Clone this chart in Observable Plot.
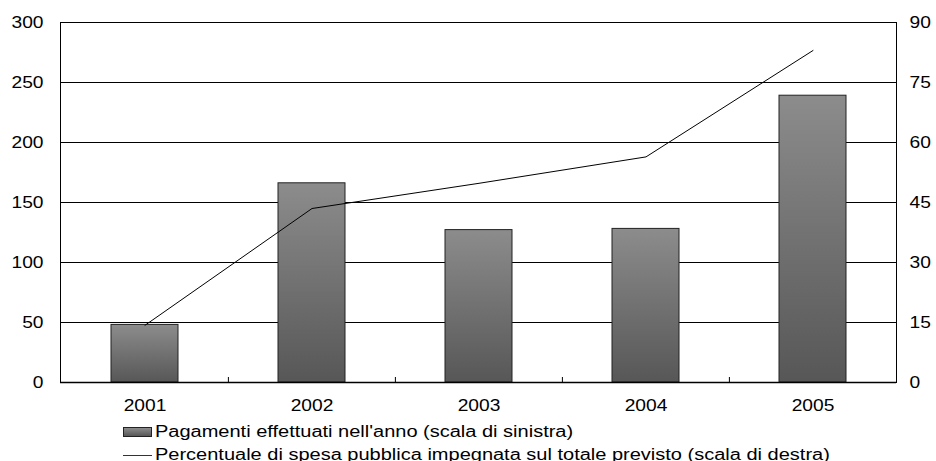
<!DOCTYPE html>
<html>
<head>
<meta charset="utf-8">
<script src="https://cdn.jsdelivr.net/npm/d3@7"></script>
<script src="https://cdn.jsdelivr.net/npm/@observablehq/plot@0.6"></script>
<style>
  body { margin: 0; background: #fff; font-family: "Liberation Sans", Arial, sans-serif; }
  #chart { position: relative; width: 936px; height: 461px; overflow: hidden; }
  .legend-row { position: absolute; left: 0; width: 936px; height: 16px; line-height: 16px; font-size: 16px; color: #000; white-space: nowrap; }
  .legend-row .txt { position: absolute; left: 155px; top: 0; transform-origin: 0 50%; transform: scaleX(1.25); }
  .swatch-bar { position: absolute; left: 123px; top: 3px; width: 27px; height: 8px; border: 1px solid #222; background: linear-gradient(#8c8c8c, #575757); }
  .swatch-line { position: absolute; left: 123px; top: 8px; width: 29px; height: 0; border-top: 1px solid #333; }
</style>
</head>
<body>
<div id="chart"></div>
<script>
// Pagamenti annui (scala di sinistra) e percentuale di spesa impegnata (scala di destra)
const years = ["2001", "2002", "2003", "2004", "2005"];
const pagamenti = [48, 166, 127, 128, 239];
const percentuale = [14.3, 43.5, 49.8, 56.4, 83];
const leftTicks = [0, 50, 100, 150, 200, 250, 300];
const rightTicks = [0, 15, 30, 45, 60, 75, 90];
const legendLabels = [
  "Pagamenti effettuati nell'anno (scala di sinistra)",
  "Percentuale di spesa pubblica impegnata sul totale previsto (scala di destra)"
];

const table = years.map((year, i) => ({year, pagamenti: pagamenti[i], percentuale: percentuale[i]}));

// the right axis shares the left scale: 90% sits at the top, like 300
const leftMax = leftTicks[leftTicks.length - 1];
const rightMax = rightTicks[rightTicks.length - 1];
const toLeft = (p) => p * leftMax / rightMax;

const W = 936, H = 418, mL = 60, mR = 40, mT = 22, mB = 36;
const step = (W - mL - mR) / years.length;
const textStretch = 1.2;

const svg = Plot.plot({
  width: W,
  height: H,
  marginLeft: mL,
  marginRight: mR,
  marginTop: mT,
  marginBottom: mB,
  style: {fontFamily: "'Liberation Sans', Arial, sans-serif", fontSize: "16px", color: "#000", background: "#fff", overflow: "visible"},
  x: {domain: years, paddingInner: 0.6, paddingOuter: 0.3, label: null},
  y: {domain: [0, leftMax], label: null},
  marks: [
    Plot.ruleY(leftTicks.slice(1, -1), {stroke: "#000", strokeWidth: 1}),
    Plot.barY(table, {x: "year", y: "pagamenti", fill: "url(#barGrad)", stroke: "#222", strokeWidth: 1}),
    Plot.lineY(table, {x: "year", y: (d) => toLeft(d.percentuale), stroke: "#000", strokeWidth: 1}),
    Plot.frame({stroke: "#000", strokeWidth: 1}),
    Plot.ruleY([0], {stroke: "#000", strokeWidth: 1.6}),
    // small inward ticks between categories
    Plot.ruleX(years.slice(1), {y1: 0, y2: 0, insetBottom: 5, dx: -step / 2, stroke: "#000", strokeWidth: 1}),
    Plot.axisY(leftTicks, {anchor: "left", tickSize: 0, tickPadding: 17, label: null}),
    Plot.axisY(leftTicks, {anchor: "right", tickSize: 0, tickPadding: 13, label: null,
      tickFormat: (d) => String(rightTicks[leftTicks.indexOf(d)])}),
    Plot.axisX({tickSize: 0, tickPadding: 17, label: null})
  ]
});

// vertical gradient for the bars
const defs = d3.select(svg).insert("defs", ":first-child");
const grad = defs.append("linearGradient").attr("id", "barGrad").attr("x1", 0).attr("y1", 0).attr("x2", 0).attr("y2", 1);
grad.append("stop").attr("offset", "0%").attr("stop-color", "#8c8c8c");
grad.append("stop").attr("offset", "100%").attr("stop-color", "#575757");

// widen the lettering horizontally around each label's anchor point
d3.select(svg).selectAll("text").each(function () {
  const t = d3.select(this);
  const x = parseFloat(t.attr("x")) || 0;
  const prev = t.attr("transform") || "";
  t.attr("transform", `${prev} translate(${x},0) scale(${textStretch},1) translate(${-x},0)`);
});

const chart = document.getElementById("chart");
chart.appendChild(svg);

// legend below the plot
const rows = [
  {top: 424, cls: "swatch-bar", label: legendLabels[0]},
  {top: 447, cls: "swatch-line", label: legendLabels[1]}
];
for (const r of rows) {
  const row = document.createElement("div");
  row.className = "legend-row";
  row.style.top = r.top + "px";
  const sw = document.createElement("div");
  sw.className = r.cls;
  const txt = document.createElement("span");
  txt.className = "txt";
  txt.textContent = r.label;
  row.appendChild(sw);
  row.appendChild(txt);
  chart.appendChild(row);
}
</script>
</body>
</html>
